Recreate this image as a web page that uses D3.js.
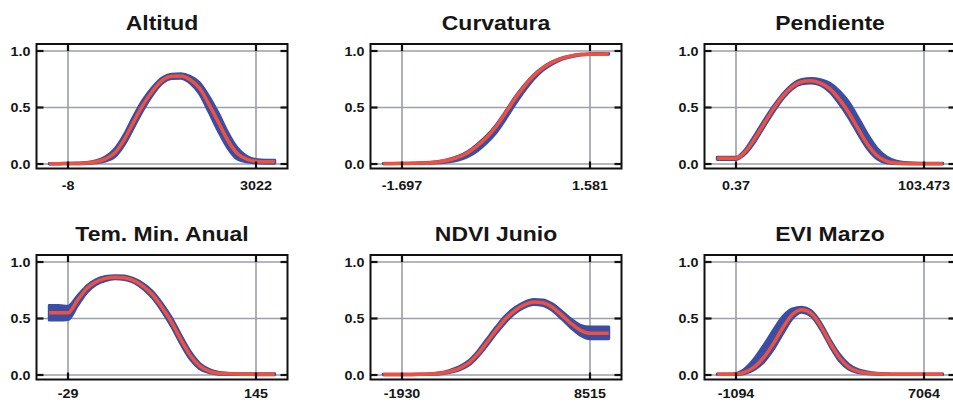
<!DOCTYPE html>
<html><head><meta charset="utf-8">
<script src="https://cdn.jsdelivr.net/npm/d3@7"></script>
<style>html,body{margin:0;padding:0;background:#fff;overflow:hidden}svg{display:block}</style>
</head><body>
<svg id="chart" width="953" height="402"></svg>
<script>
// ---------- data ----------
const titles = ["Altitud", "Curvatura", "Pendiente", "Tem. Min. Anual", "NDVI Junio", "EVI Marzo"];
const xMinLabels = ["-8", "-1.697", "0.37", "-29", "-1930", "-1094"];
const xMaxLabels = ["3022", "1.581", "103.473", "145", "8515", "7064"];
const yTickValues = [0, 0.5, 1];
const yTickLabels = ["0.0", "0.5", "1.0"];
// relative position of each sample between the min and max of the variable
const samplePos = [-0.10,-0.05,0,0.05,0.10,0.15,0.20,0.25,0.30,0.35,0.40,0.45,0.50,0.55,0.60,0.65,0.70,0.75,0.80,0.85,0.90,0.95,1.00,1.05,1.10];

const altitudMean = [0.003,0.003,0.004,0.005,0.008,0.02,0.045,0.10,0.218,0.375,0.525,0.646,0.737,0.776,0.779,0.746,0.67,0.528,0.369,0.21,0.094,0.044,0.025,0.02,0.02];
const altitudLo   = [0.000,0.000,0.001,0.001,0.003,0.01,0.025,0.065,0.173,0.325,0.48,0.611,0.712,0.756,0.759,0.716,0.62,0.458,0.289,0.14,0.044,0.019,0.01,0.006,0.006];
const altitudHi   = [0.006,0.006,0.007,0.009,0.014,0.03,0.065,0.135,0.263,0.425,0.57,0.681,0.762,0.796,0.799,0.776,0.72,0.598,0.449,0.28,0.144,0.069,0.04,0.035,0.035];

const curvaturaMean = [0.004,0.004,0.005,0.006,0.008,0.012,0.02,0.035,0.06,0.10,0.16,0.235,0.33,0.45,0.575,0.685,0.78,0.85,0.90,0.935,0.955,0.968,0.972,0.974,0.975];
const curvaturaLo   = [0.002,0.002,0.003,0.003,0.004,0.006,0.01,0.018,0.035,0.065,0.115,0.185,0.275,0.395,0.525,0.645,0.75,0.83,0.885,0.925,0.947,0.963,0.968,0.97,0.971];
const curvaturaHi   = [0.006,0.006,0.007,0.008,0.011,0.016,0.025,0.043,0.07,0.112,0.175,0.25,0.345,0.465,0.59,0.697,0.79,0.858,0.906,0.94,0.959,0.972,0.976,0.978,0.979];

const pendienteMean = [0.05,0.05,0.05,0.11,0.225,0.36,0.49,0.603,0.685,0.728,0.737,0.716,0.665,0.572,0.453,0.31,0.173,0.075,0.025,0.008,0.004,0.003,0.003,0.003,0.003];
const pendienteLo   = [0.04,0.04,0.04,0.09,0.195,0.33,0.46,0.578,0.665,0.708,0.717,0.696,0.635,0.532,0.408,0.265,0.133,0.045,0.01,0.003,0.002,0.001,0.001,0.001,0.001];
const pendienteHi   = [0.06,0.06,0.06,0.13,0.255,0.39,0.515,0.623,0.705,0.748,0.757,0.746,0.715,0.647,0.548,0.41,0.263,0.14,0.065,0.028,0.014,0.009,0.008,0.008,0.008];

const temMinMean = [0.55,0.55,0.55,0.66,0.765,0.825,0.855,0.865,0.86,0.835,0.785,0.71,0.60,0.47,0.315,0.175,0.08,0.035,0.015,0.01,0.008,0.007,0.006,0.006,0.006];
const temMinLo   = [0.485,0.485,0.49,0.61,0.73,0.80,0.835,0.85,0.845,0.818,0.762,0.68,0.565,0.43,0.275,0.14,0.055,0.02,0.006,0.004,0.003,0.003,0.002,0.002,0.002];
const temMinHi   = [0.615,0.615,0.61,0.70,0.79,0.845,0.872,0.88,0.876,0.853,0.808,0.74,0.635,0.51,0.355,0.21,0.105,0.05,0.025,0.017,0.013,0.012,0.011,0.011,0.011];

const ndviMean = [0.005,0.005,0.005,0.005,0.006,0.008,0.015,0.03,0.055,0.10,0.18,0.285,0.395,0.495,0.57,0.62,0.645,0.64,0.60,0.53,0.455,0.395,0.37,0.37,0.37];
const ndviLo   = [0.002,0.002,0.002,0.002,0.003,0.004,0.009,0.02,0.04,0.08,0.155,0.255,0.365,0.465,0.545,0.597,0.622,0.615,0.57,0.495,0.415,0.35,0.32,0.32,0.32];
const ndviHi   = [0.008,0.008,0.008,0.008,0.009,0.012,0.021,0.04,0.07,0.12,0.205,0.315,0.425,0.525,0.595,0.643,0.668,0.665,0.63,0.565,0.495,0.44,0.425,0.425,0.425];

const eviMean = [0.006,0.006,0.008,0.028,0.075,0.16,0.28,0.42,0.535,0.578,0.545,0.435,0.285,0.155,0.07,0.032,0.017,0.01,0.007,0.006,0.006,0.006,0.006,0.006,0.006];
const eviLo   = [0.003,0.003,0.004,0.015,0.05,0.12,0.23,0.37,0.50,0.555,0.52,0.405,0.255,0.125,0.05,0.02,0.01,0.005,0.003,0.003,0.003,0.003,0.003,0.003,0.003];
const eviHi   = [0.009,0.009,0.015,0.06,0.15,0.27,0.40,0.52,0.585,0.60,0.57,0.465,0.315,0.185,0.095,0.048,0.027,0.016,0.011,0.009,0.009,0.009,0.009,0.009,0.009];

const means = [altitudMean, curvaturaMean, pendienteMean, temMinMean, ndviMean, eviMean];
const lows  = [altitudLo, curvaturaLo, pendienteLo, temMinLo, ndviLo, eviLo];
const highs = [altitudHi, curvaturaHi, pendienteHi, temMinHi, ndviHi, eviHi];

// ---------- layout ----------
const colLeft = [36.5, 370.5, 704.5];
const rowTop = [44, 255];
const xLabelDy = [146, 143];
const frameW = 251, frameH = 124.5;
const gridInset = 31.5;
const BLUE = "#3a4ea6", RED = "#f2503a", GRID = "#9c9ea8", INK = "#161616";
const FONT = "'Liberation Sans', Arial, Helvetica, sans-serif";

const svg = d3.select("#chart");

function txt(g, x, y, s, size, anchor, sx) {
  g.append("text")
    .attr("transform", `translate(${x},${y}) scale(${sx},1)`)
    .attr("text-anchor", anchor)
    .attr("font-family", FONT)
    .attr("font-weight", "bold")
    .attr("font-size", size)
    .attr("fill", INK)
    .text(s);
}

titles.forEach((title, i) => {
  const row = Math.floor(i / 3);
  const left = colLeft[i % 3], top = rowTop[row];
  const xMin = +xMinLabels[i], xMax = +xMaxLabels[i];
  const x = d3.scaleLinear().domain([xMin, xMax]).range([left + gridInset, left + frameW - gridInset]);
  const y = d3.scaleLinear().domain([0, 1]).range([top + 120, top + 7]);
  const g = svg.append("g");

  const pts = samplePos.map((p, k) => ({
    x: xMin + p * (xMax - xMin), m: means[i][k], lo: lows[i][k], hi: highs[i][k]
  }));

  // gridlines
  yTickValues.forEach(v => {
    g.append("line").attr("x1", left).attr("x2", left + frameW).attr("y1", y(v)).attr("y2", y(v))
      .attr("stroke", GRID).attr("stroke-width", 1.6);
  });
  [xMin, xMax].forEach(v => {
    g.append("line").attr("x1", x(v)).attr("x2", x(v)).attr("y1", top).attr("y2", top + frameH)
      .attr("stroke", GRID).attr("stroke-width", 1.6);
  });

  // confidence band
  const area = d3.area().x(d => x(d.x)).y0(d => y(d.lo)).y1(d => y(d.hi)).curve(d3.curveMonotoneX);
  g.append("path").datum(pts).attr("d", area)
    .attr("fill", BLUE).attr("stroke", BLUE).attr("stroke-width", 2.8).attr("stroke-linejoin", "round");

  // mean line
  const line = d3.line().x(d => x(d.x)).y(d => y(d.m)).curve(d3.curveMonotoneX);
  g.append("path").datum(pts).attr("d", line)
    .attr("fill", "none").attr("stroke", RED).attr("stroke-width", 3.5);

  // frame
  g.append("rect").attr("x", left).attr("y", top).attr("width", frameW).attr("height", frameH)
    .attr("fill", "none").attr("stroke", "#111").attr("stroke-width", 2);

  // inward ticks
  yTickValues.forEach(v => {
    g.append("line").attr("x1", left).attr("x2", left + 7).attr("y1", y(v)).attr("y2", y(v))
      .attr("stroke", "#111").attr("stroke-width", 2.2);
    g.append("line").attr("x1", left + frameW - 7).attr("x2", left + frameW).attr("y1", y(v)).attr("y2", y(v))
      .attr("stroke", "#111").attr("stroke-width", 2.2);
  });
  [xMin, xMax].forEach(v => {
    g.append("line").attr("x1", x(v)).attr("x2", x(v)).attr("y1", top).attr("y2", top + 7)
      .attr("stroke", "#111").attr("stroke-width", 2.2);
    g.append("line").attr("x1", x(v)).attr("x2", x(v)).attr("y1", top + frameH - 7).attr("y2", top + frameH)
      .attr("stroke", "#111").attr("stroke-width", 2.2);
  });

  // labels
  yTickValues.forEach((v, k) => txt(g, left - 6, y(v) + 4.6, yTickLabels[k], 12.8, "end", 1.12));
  txt(g, x(xMin), top + xLabelDy[row], xMinLabels[i], 12.8, "middle", 1.12);
  txt(g, x(xMax), top + xLabelDy[row], xMaxLabels[i], 12.8, "middle", 1.12);
  txt(g, left + frameW / 2, top - 14, title, 20.5, "middle", 1.12);
});
</script>
</body></html>
